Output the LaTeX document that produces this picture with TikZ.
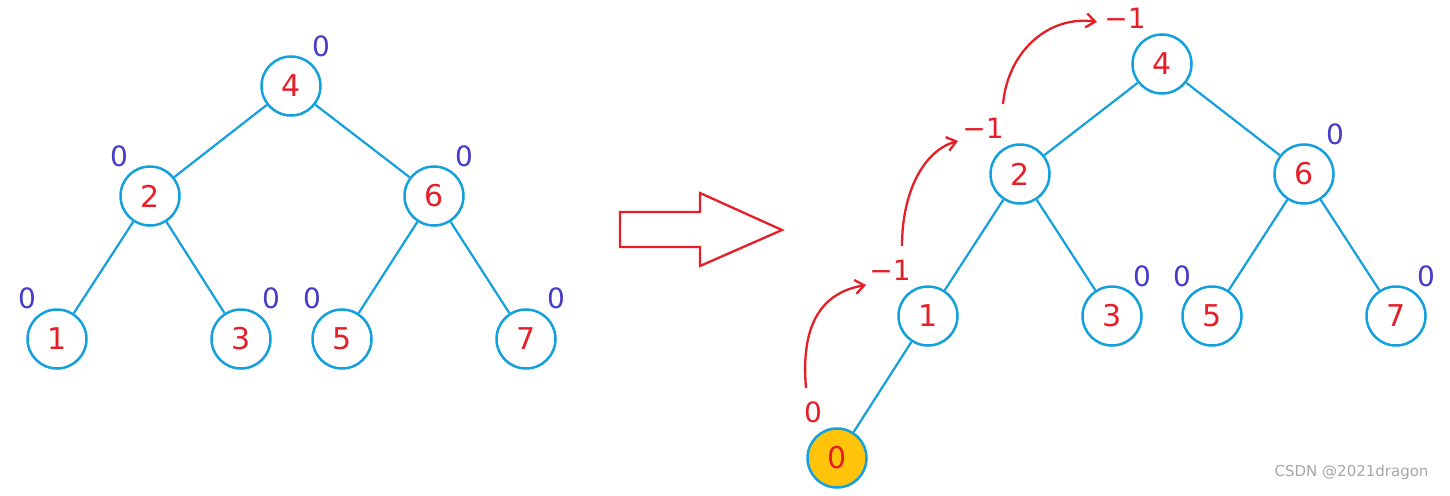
\documentclass[tikz,border=0pt]{standalone}
\usepackage{fontspec}
\setmainfont{DejaVu Sans}
\usetikzlibrary{arrows.meta}
\definecolor{cblue}{RGB}{20,160,220}
\definecolor{cred}{RGB}{230,30,40}
\definecolor{lblue}{RGB}{70,60,200}
\definecolor{gold}{RGB}{255,196,10}
\begin{document}
\begin{tikzpicture}[x=1pt,y=-1pt,
  tn/.style={circle,draw=cblue,line width=2.5pt,minimum size=59pt,inner sep=0pt,text=cred,font=\fontsize{30}{30}\selectfont},
  bal/.style={text=lblue,font=\fontsize{28}{28}\selectfont,inner sep=0pt},
  rbal/.style={text=cred,font=\fontsize{28}{28}\selectfont,inner sep=0pt},
  ed/.style={cblue,line width=2.2pt},
  ra/.style={cred,line width=2.3pt,-{Straight Barb[length=9pt,width=14pt]}}]
\useasboundingbox (0,0) rectangle (1450,495);
% left tree
\node[tn] (a4) at (291,86) {4};
\node[tn] (a2) at (150,196) {2};
\node[tn] (a6) at (434,196) {6};
\node[tn] (a1) at (57,339) {1};
\node[tn] (a3) at (241,339) {3};
\node[tn] (a5) at (342,339) {5};
\node[tn] (a7) at (526,339) {7};
\draw[ed] (a4)--(a2); \draw[ed] (a4)--(a6);
\draw[ed] (a2)--(a1); \draw[ed] (a2)--(a3);
\draw[ed] (a6)--(a5); \draw[ed] (a6)--(a7);
\node[bal] (l4) at (321,46) {0};
\node[bal] (l2) at (119,156) {0};
\node[bal] (l6) at (464,156) {0};
\node[bal] (l1) at (27,298) {0};
\node[bal] (l3) at (271,298) {0};
\node[bal] (l5) at (312,298) {0};
\node[bal] (l7) at (556,298) {0};
% hollow arrow
\draw[cred,line width=2.3pt,fill=white] (620,212) -- (700,212) -- (700,193) -- (782,230) -- (700,266) -- (700,247) -- (620,247) -- cycle;
% right tree
\node[tn] (b4) at (1162,64) {4};
\node[tn] (b2) at (1020,174) {2};
\node[tn] (b6) at (1304,174) {6};
\node[tn] (b1) at (928,316) {1};
\node[tn] (b3) at (1112,316) {3};
\node[tn] (b5) at (1212,316) {5};
\node[tn] (b7) at (1396,316) {7};
\node[tn,fill=gold] (b0) at (837,458) {0};
\draw[ed] (b4)--(b2); \draw[ed] (b4)--(b6);
\draw[ed] (b2)--(b1); \draw[ed] (b2)--(b3);
\draw[ed] (b6)--(b5); \draw[ed] (b6)--(b7);
\draw[ed] (b1)--(b0);
\node[bal] (m6) at (1335,134) {0};
\node[bal] (m3) at (1142,276) {0};
\node[bal] (m5) at (1182,276) {0};
\node[bal] (m7) at (1426,276) {0};
\node[rbal] (r0) at (813,412) {0};
\node[rbal] (r1) at (890,270) {−1};
\node[rbal] (r2) at (983,128) {−1};
\node[rbal] (r4) at (1125,18) {−1};
\coordinate (s1) at (806,388); \coordinate (t1) at (866,285);
\coordinate (s2) at (902,246); \coordinate (t2) at (958,141);
\coordinate (s3) at (1003,104); \coordinate (t3) at (1097,22);
\draw[ra] (s1) .. controls (800,320) and (825,292) .. (t1);
\draw[ra] (s2) .. controls (902,190) and (925,150) .. (t2);
\draw[ra] (s3) .. controls (1008,50) and (1050,15) .. (t3);
\node[text=gray!70,font=\fontsize{15}{15}\selectfont,anchor=east] (wm) at (1432,472) {CSDN @2021dragon};
\end{tikzpicture}
\end{document}
